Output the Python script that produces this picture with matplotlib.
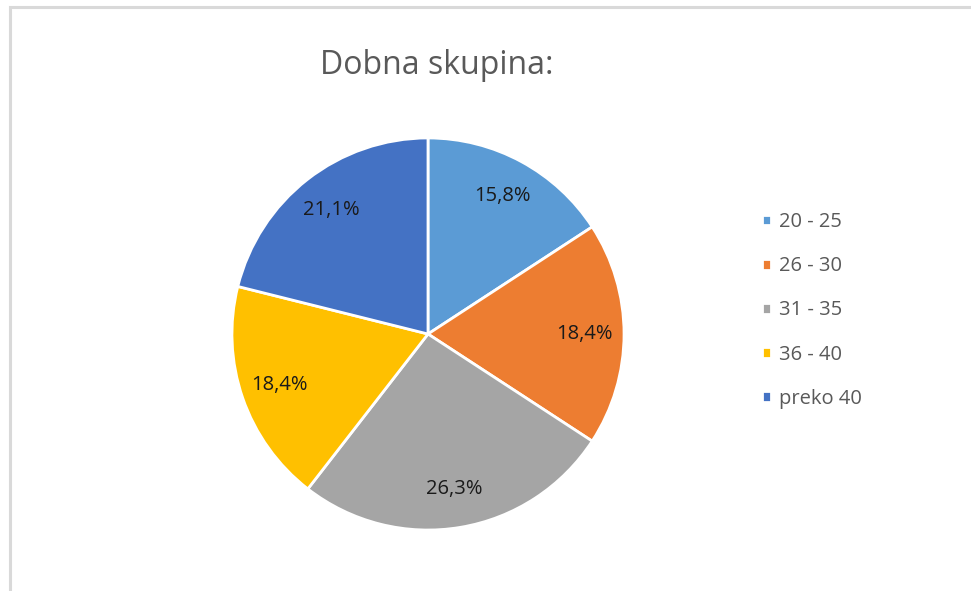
import matplotlib

matplotlib.use("Agg")
import matplotlib.pyplot as plt
from matplotlib.patches import Rectangle

# Age-group shares (percent), slices drawn clockwise from 12 o'clock
groups = ["20 - 25", "26 - 30", "31 - 35", "36 - 40", "preko 40"]
shares = [15.8, 18.4, 26.3, 18.4, 21.1]
colors = ["#5B9BD5", "#ED7D31", "#A5A5A5", "#FFC000", "#4472C4"]

plt.rcParams["font.family"] = ["Open Sans", "DejaVu Sans"]

W, H = 971, 591
fig = plt.figure(figsize=(W / 100, H / 100), dpi=100)

# pie axes: centre (428, 334) px, radius ~198 px
cx, cy, r = 428, 334, 198
ax = fig.add_axes([(cx - r) / W, (H - cy - r) / H, 2 * r / W, 2 * r / H])
wedges, texts, autotexts = ax.pie(
    shares,
    colors=colors,
    startangle=90,
    counterclock=False,
    autopct=lambda p: f"{p:.1f}%".replace(".", ","),
    pctdistance=0.8,
    wedgeprops=dict(edgecolor="white", linewidth=2),
    textprops=dict(fontsize=14.5, color="#1a1a1a"),
)
ax.set_xlim(-1.01, 1.01)
ax.set_ylim(-1.01, 1.01)
ax.set_aspect("equal")

fig.text(437 / W, 1 - 65 / H, "Dobna skupina:", ha="center", va="center",
         fontsize=23, color="#595959")

leg = fig.legend(wedges, groups, loc="upper left",
                 bbox_to_anchor=(744 / W, 1 - 194 / H), frameon=False,
                 handlelength=0.45, handleheight=0.45, handletextpad=0.4,
                 labelspacing=1.2, fontsize=14.5)
for t in leg.get_texts():
    t.set_color("#595959")

# light chart-area border (left and top edges visible)
fig.add_artist(Rectangle((10 / W, -0.05), 1.1, 1 - 7 / H + 0.05,
                         transform=fig.transFigure, fill=False,
                         edgecolor="#d9d9d9", linewidth=2.2))

fig.savefig("out.png", dpi=100)
